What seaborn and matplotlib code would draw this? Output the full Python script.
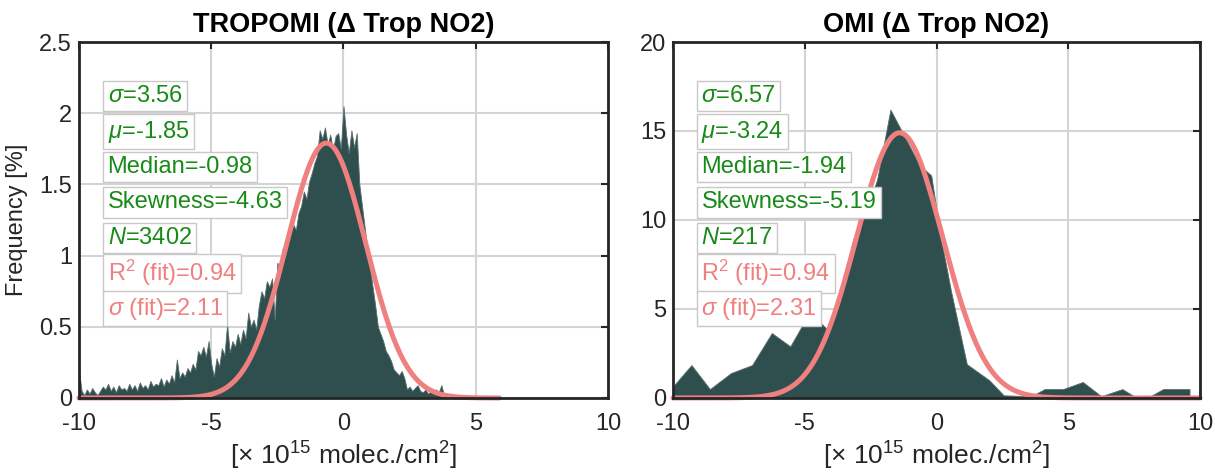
import numpy as np
import matplotlib
matplotlib.use("Agg")
import matplotlib.pyplot as plt
import seaborn as sns

# ---------------- data ----------------
trop_bin_start = -10.0
trop_bin_width = 0.1
trop_freq = [
    0.19, 0.05, 0.02, 0.06, 0.03, 0.07, 0.04, 0.02, 0.05, 0.08,
    0.06, 0.10, 0.05, 0.08, 0.04, 0.09, 0.06, 0.07, 0.05, 0.10,
    0.06, 0.09, 0.05, 0.11, 0.07, 0.09, 0.06, 0.12, 0.08, 0.10,
    0.09, 0.14, 0.08, 0.13, 0.10, 0.16, 0.11, 0.27, 0.14, 0.18,
    0.15, 0.21, 0.18, 0.24, 0.20, 0.33, 0.30, 0.36, 0.29, 0.40,
    0.24, 0.15, 0.28, 0.22, 0.35, 0.30, 0.52, 0.32, 0.40, 0.36,
    0.45, 0.38, 0.48, 0.42, 0.60, 0.50, 0.55, 0.48, 0.65, 0.75,
    0.70, 0.82, 0.78, 0.84, 0.55, 0.95, 0.90, 1.05, 1.00, 1.10,
    1.15, 1.22, 1.18, 1.30, 1.35, 1.45, 1.40, 1.52, 1.58, 1.65,
    1.70, 1.88, 1.82, 1.90, 1.78, 1.85, 1.74, 1.84, 1.86, 1.75,
    2.05, 1.85, 1.72, 1.88, 1.76, 1.86, 1.50, 1.35, 1.20, 1.05,
    0.92, 0.78, 0.65, 0.50, 0.45, 0.40, 0.33, 0.30, 0.26, 0.20,
    0.18, 0.16, 0.19, 0.14, 0.06, 0.08, 0.05, 0.07, 0.09, 0.05,
    0.04, 0.06, 0.03, 0.05, 0.04, 0.06, 0.04, 0.09, 0.02, 0.01,
    0.02, 0.01, 0.01, 0.02, 0.01, 0.01, 0.01, 0.00, 0.01, 0.01,
    0.00, 0.01, 0.00, 0.01, 0.00, 0.00, 0.01, 0.00, 0.00, 0.01,
    0.00,
]
trop_fit = {"amp": 1.79, "center": -0.65, "width": 2.11, "xmin": -10.0, "xmax": 5.9}

omi_x = [-10.0, -9.3, -8.6, -7.8, -7.0, -6.25, -5.55, -5.05, -4.5, -4.1,
         -3.6, -3.15, -2.65, -2.25, -1.75, -1.25, -0.65, -0.2, 0.15, 0.55,
         1.15, 2.0, 2.55, 3.6, 4.1, 4.8, 5.55, 6.25, 7.05, 7.55, 8.05,
         8.6, 9.6]
omi_freq = [0.65, 1.85, 0.5, 1.4, 1.85, 3.65, 2.9, 4.2, 4.35, 3.8,
            6.4, 8.95, 10.5, 12.3, 16.2, 14.8, 13.1, 12.5, 9.1, 6.0,
            1.9, 1.0, 0.15, 0.1, 0.5, 0.5, 0.9, 0.1, 0.5, 0.05, 0.05,
            0.5, 0.5]
omi_fit = {"amp": 14.9, "center": -1.4, "width": 2.31, "xmin": -10.0, "xmax": 10.0}

titles = ["TROPOMI (\u0394 Trop NO2)", "OMI (\u0394 Trop NO2)"]
green_labels = [
    ["$\\sigma$=3.56", "$\\mu$=-1.85", "Median=-0.98", "Skewness=-4.63", "$N$=3402"],
    ["$\\sigma$=6.57", "$\\mu$=-3.24", "Median=-1.94", "Skewness=-5.19", "$N$=217"],
]
pink_labels = [
    ["R$^2$ (fit)=0.94", "$\\sigma$ (fit)=2.11"],
    ["R$^2$ (fit)=0.94", "$\\sigma$ (fit)=2.31"],
]
y_ticks = [[0, 0.5, 1, 1.5, 2, 2.5], [0, 5, 10, 15, 20]]
y_ticklabels = [["0", "0.5", "1", "1.5", "2", "2.5"], ["0", "5", "10", "15", "20"]]
x_ticks = [-10, -5, 0, 5, 10]
x_label = "[$\\times$ 10$^{15}$ molec./cm$^2$]"
y_label = "Frequency [%]"

# ---------------- style ----------------
sns.set_theme(style="white")
plt.rcParams["font.family"] = ["Liberation Sans", "DejaVu Sans"]
plt.rcParams["mathtext.fontset"] = "custom"
plt.rcParams["mathtext.rm"] = "Liberation Sans"
plt.rcParams["mathtext.it"] = "Liberation Sans:italic"
plt.rcParams["mathtext.bf"] = "Liberation Sans:bold"

FILL = "#2F4F4F"
FIT = "#F08080"
GREEN = "#178A17"
DARK = "#262626"
FS = 17

fig = plt.figure(figsize=(12.15, 4.73), dpi=100)
ax1 = fig.add_axes([0.065, 0.1586, 0.4354, 0.7526])
ax2 = fig.add_axes([0.5539, 0.1586, 0.4338, 0.7526])
axes = [ax1, ax2]

trop_x = trop_bin_start + trop_bin_width * np.arange(len(trop_freq))
hist_x = [trop_x, np.array(omi_x)]
hist_y = [np.array(trop_freq), np.array(omi_freq)]
fits = [trop_fit, omi_fit]

for i, ax in enumerate(axes):
    ax.fill_between(hist_x[i], 0, hist_y[i], color=FILL, lw=0.6,
                    edgecolor="#5a6e6e", zorder=2)
    f = fits[i]
    fx = np.linspace(f["xmin"], f["xmax"], 400)
    fy = f["amp"] * np.exp(-((fx - f["center"]) / f["width"]) ** 2)
    sns.lineplot(x=fx, y=fy, ax=ax, color=FIT, lw=3.6, zorder=3, clip_on=False)

    ax.set_xlim(-10, 10)
    ax.set_ylim(y_ticks[i][0], y_ticks[i][-1])
    ax.set_xticks(x_ticks)
    ax.set_xticklabels([str(t) for t in x_ticks])
    ax.set_yticks(y_ticks[i])
    ax.set_yticklabels(y_ticklabels[i])
    ax.tick_params(direction="in", length=5, width=1.5, colors=DARK,
                   labelsize=FS, top=True, right=True, labelcolor=DARK)
    ax.tick_params(axis="x", pad=11)
    ax.tick_params(axis="y", pad=5)
    ax.grid(True, color="#d4d4d4", lw=1.5, zorder=0)
    ax.set_axisbelow(True)
    for s in ax.spines.values():
        s.set_color(DARK)
        s.set_linewidth(2.0)
        s.set_zorder(5)
    ax.set_title(titles[i], fontsize=19.5, fontweight="bold", color="black", pad=7)
    ax.set_xlabel(x_label, fontsize=19, color=DARK, labelpad=3)

    rows = green_labels[i] + pink_labels[i]
    colors = [GREEN] * len(green_labels[i]) + [FIT] * len(pink_labels[i])
    y0 = 0.848
    dy = 0.0995
    for k, (txt, col) in enumerate(zip(rows, colors)):
        ax.text(0.054, y0 - k * dy, txt, transform=ax.transAxes, fontsize=FS,
                color=col, va="center", ha="left", zorder=6,
                bbox=dict(boxstyle="square,pad=0.18", fc="white",
                          ec="#c8c8c8", lw=1.0))

ax1.set_ylabel(y_label, fontsize=FS, color=DARK, labelpad=8)
ax2.set_ylabel("")

fig.savefig("out.png", dpi=100)
